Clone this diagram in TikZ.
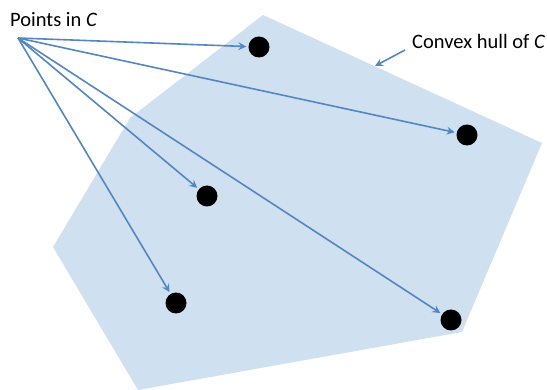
\documentclass[tikz,border=0pt]{standalone}
\usepackage{fontspec}
\setmainfont{Carlito}
\usetikzlibrary{arrows.meta}
\definecolor{hullfill}{RGB}{207,224,241}
\definecolor{arrowblue}{RGB}{84,134,194}
\begin{document}
\begin{tikzpicture}[x=1pt,y=-1pt,
  pt/.style={circle,fill=black,inner sep=0pt,minimum size=21pt},
  ptr/.style={draw=arrowblue,line width=1.6pt,-{Stealth[length=8pt,width=8pt,inset=3pt]}},
  lbl/.style={inner sep=0pt,font=\fontsize{20.5}{24}\selectfont}]
\useasboundingbox (0,0) rectangle (547,390);
% convex hull
\fill[hullfill] (263,15) -- (542,143) -- (462,332) -- (138,390) -- (53,247) -- (130,118) -- cycle;
% points
\node[pt] (p1) at (259,47) {};
\node[pt] (p2) at (467,135) {};
\node[pt] (p3) at (207,196) {};
\node[pt] (p4) at (176,303) {};
\node[pt] (p5) at (451,320) {};
% labels
\node[lbl,anchor=base west] (pl) at (10,27) {Points in \textit{C}};
\node[lbl,anchor=base west] (hl) at (412,49) {Convex hull of \textit{C}};
\coordinate (src) at (18,38);
\coordinate (hs) at (405,50);
\coordinate (ht) at (375,66);
% connectors
\foreach \p in {p1,p2,p3,p4,p5}
  \draw[ptr,shorten >=2pt] (src) -- (\p);
\draw[ptr] (hs) -- (ht);
\end{tikzpicture}
\end{document}
